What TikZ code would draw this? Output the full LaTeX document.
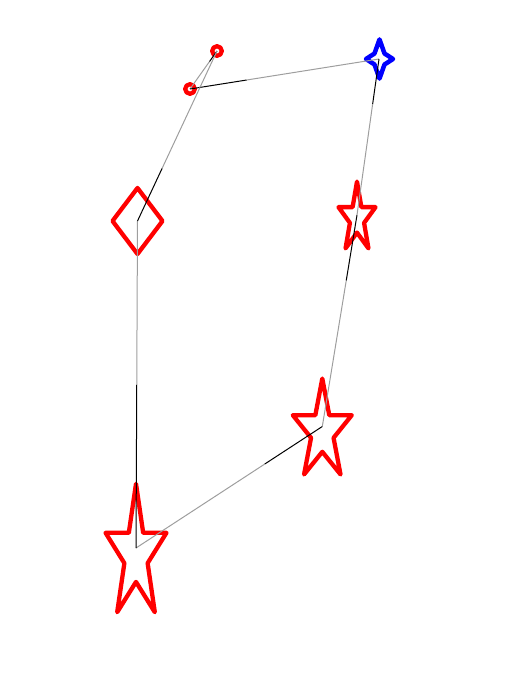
\documentclass[tikz,border=0pt]{standalone}
\usetikzlibrary{calc}
\tikzset{redline/.style={draw=red,line width=4.3pt,line join=round}}
\tikzset{blueline/.style={draw=blue,line width=4.5pt,line join=round}}
\tikzset{blk/.style={black,line width=1pt}}
\tikzset{gry/.style={black!38,line width=1pt}}
% five-point star, #1 = x radius, #2 = y radius, centred on its box
\tikzset{pics/pent/.style 2 args={code={
  \draw[redline] (0,{0.0955*#2-#2})
    \foreach \ang/\rad in {126/.382,162/1,198/.382,234/1,270/.382,306/1,342/.382,18/1,54/.382}
      { -- ({\rad*#1*cos(\ang)},{0.0955*#2-\rad*#2*sin(\ang)}) } -- cycle;
}}}

\begin{document}
\begin{tikzpicture}[x=1pt,y=-1pt]
\useasboundingbox (0,0) rectangle (511,673);

% centres
\coordinate (ringA) at (217,51);
\coordinate (ringB) at (190,89);
\coordinate (spark) at (379,59);
\coordinate (rhomb) at (137.5,221);
\coordinate (starS) at (357,215);
\coordinate (starM) at (322.3,426.5);
\coordinate (starL) at (136,548);

% markers
\draw[redline] (ringA) circle (4.8);
\draw[redline] (ringB) circle (4.8);
\draw[blueline] ($(spark)+(0.5,-19.6)$) -- ++(5,14.1) -- ++(8.5,5.5) -- ++(-8.5,5.5)
  -- ++(-5,14.1) -- ++(-5,-14.1) -- ++(-8.5,-5.5) -- ++(8.5,-5.5) -- cycle;
\draw[redline] ($(rhomb)+(0,-33)$) -- ++(25,33) -- ++(-25,33) -- ++(-25,-33) -- cycle;
\pic at (starS) {pent={19.5}{36.9}};
\pic at (starM) {pent={31}{53}};
\pic at (starL) {pent={32}{71}};

% edges: black near the start, grey for the rest
\foreach \from/\to/\cut in {ringA/ringB/0.28,ringB/spark/0.30,spark/starS/0.29,
  starS/starM/0.31,starM/starL/0.31,starL/rhomb/0.5,rhomb/ringA/0.31}
{
  \draw[blk] (\from) -- ($(\from)!\cut!(\to)$);
  \draw[gry] ($(\from)!\cut!(\to)$) -- (\to);
}
\end{tikzpicture}
\end{document}
